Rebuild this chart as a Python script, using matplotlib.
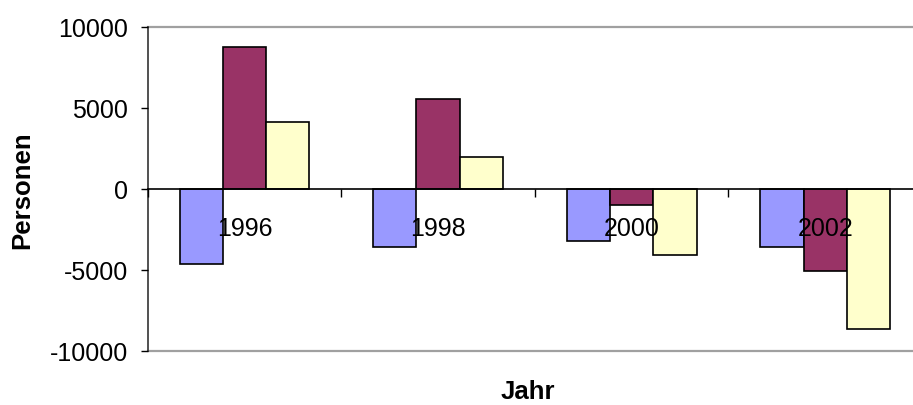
import numpy as np
import matplotlib.pyplot as plt

plt.rcParams['font.family'] = ['Liberation Sans', 'DejaVu Sans']
plt.rcParams['axes.unicode_minus'] = False

# data
years = ['1996', '1998', '2000', '2002']
reihe1 = [-4600, -3600, -3220, -3600]
reihe2 = [8750, 5540, -1000, -5080]
reihe3 = [4150, 1950, -4100, -8660]

colors = ['#9999FF', '#993366', '#FFFFCC']
font_size = 18

fig = plt.figure(figsize=(9.13, 4.05), dpi=100)
ax = fig.add_axes([0.1618, 0.1333, 0.848, 0.8])
ax.set_axisbelow(False)

x = np.arange(len(years))
w = 0.2235
for i, (vals, c) in enumerate(zip([reihe1, reihe2, reihe3], colors)):
    ax.bar(x + (i - 1) * w, vals, width=w, color=c, edgecolor='black', linewidth=1.2, zorder=1)

ax.set_xlim(-0.5, len(years) - 0.5)
ax.set_ylim(-10000, 10000)
ax.set_yticks([-10000, -5000, 0, 5000, 10000])
ax.tick_params(axis='y', labelsize=font_size, length=5, width=1, direction='out', pad=9)

# plot area border lines at top and bottom
for yv in (-10000, 10000):
    ax.axhline(yv, color='#A0A0A0', linewidth=1.6, clip_on=False, zorder=0.5)

# category axis runs through zero
ax.spines['bottom'].set_position(('data', 0))
ax.spines['bottom'].set_linewidth(1.2)
ax.spines['top'].set_visible(False)
ax.spines['right'].set_visible(False)
ax.spines['left'].set_linewidth(1.2)
ax.spines['left'].set_color('#333333')

ax.set_xticks(x)
ax.set_xticklabels(years)
ax.set_xticks(np.arange(len(years) + 1) - 0.5, minor=True)
ax.tick_params(axis='x', which='major', length=0, labelsize=font_size, pad=20)
ax.tick_params(axis='x', which='minor', length=6, width=1, direction='out')

fig.text(0.024, 0.53, 'Personen', rotation=90, fontsize=18.5, fontweight='bold',
         ha='center', va='center')
fig.text(0.578, 0.032, 'Jahr', fontsize=18.5, fontweight='bold', ha='center', va='center')

fig.savefig('out.png', dpi=100)
